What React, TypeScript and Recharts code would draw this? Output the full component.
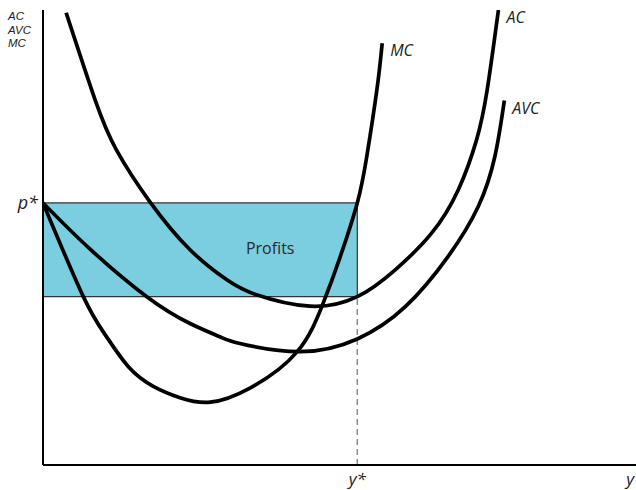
import React from 'react';
import {
  ComposedChart,
  Line,
  XAxis,
  YAxis,
  ReferenceArea,
  ReferenceLine,
} from 'recharts';

// Key values (x: output units 0-100, y: cost units 0-100)
const pStar = 57.6;
const yStar = 53;
const acAtYStar = 37;

// Marginal cost
const mcU = [0, 6.8, 10.5, 14.4, 18.6, 23.1, 28.2, 34.9, 42.8, 47.2, 50.1, 53, 54.6, 56.3, 57.2];
const mcV = [57.6, 37.0, 28.6, 21.6, 17.3, 14.8, 13.8, 16.9, 24.8, 35.4, 45.7, 57.6, 67.8, 82.4, 92.7];

// Average variable cost
const avcU = [0, 7.9, 17.5, 24.8, 29.8, 33.2, 43.3, 53, 61.1, 68.3, 73.4, 76.2, 77.8];
const avcV = [57.6, 47.5, 37.0, 31.1, 28.2, 26.7, 24.9, 27.7, 34.8, 45.8, 56.8, 67.8, 80.1];

// Average cost
const acU = [3.9, 8.8, 12.4, 18.0, 24.8, 31.0, 36.0, 45.0, 53, 59.4, 65.5, 70.0, 73.1, 74.9, 76.8];
const acV = [99.4, 80.2, 69.2, 57.9, 47.3, 40.7, 37.4, 34.9, 37.0, 42.9, 50.9, 60.4, 71.4, 82.4, 100];

const xTickValues = [yStar, 99];
const xTickLabels = ['y*', 'y'];
const yTickValues = [pStar];
const yTickLabels = ['p*'];
const yAxisTitle = ['AC', 'AVC', 'MC'];

const toPoints = (us: number[], vs: number[]) => us.map((u, i) => ({ u, v: vs[i] }));
const mcData = toPoints(mcU, mcV);
const avcData = toPoints(avcU, avcV);
const acData = toPoints(acU, acV);

const FONT = '"Open Sans", "Noto Sans", sans-serif';
const TEXT = '#222';

const endLabel = (name: string, lastIndex: number) => (props: any) => {
  const { x, y, index } = props;
  if (index !== lastIndex) return null;
  return (
    <text
      key={name}
      x={x + 8}
      y={y + 13}
      fontFamily={FONT}
      fontStyle="italic"
      fontSize={16}
      fill={TEXT}
    >
      {name}
    </text>
  );
};

const XTick = (props: any) => {
  const { x, y, index } = props;
  return (
    <text
      x={x}
      y={y}
      dy="0.71em"
      textAnchor="middle"
      fontFamily={FONT}
      fontStyle="italic"
      fontSize={17}
      fill={TEXT}
    >
      {xTickLabels[index]}
    </text>
  );
};

const YTick = (props: any) => {
  const { y, index } = props;
  return (
    <text
      x={38}
      y={y}
      dy="0.35em"
      textAnchor="end"
      fontFamily={FONT}
      fontStyle="italic"
      fontSize={18}
      fill={TEXT}
    >
      {yTickLabels[index]}
    </text>
  );
};

const YTitle = () => (
  <g>
    {yAxisTitle.map((t, i) => (
      <text
        key={t}
        x={8}
        y={20 + i * 13.5}
        fontFamily='"Liberation Sans", sans-serif'
        fontStyle="italic"
        fontSize={11.5}
        fill={TEXT}
      >
        {t}
      </text>
    ))}
  </g>
);

const ProfitsLabel = (props: any) => {
  const vb = props.viewBox || {};
  return (
    <text
      x={vb.x + vb.width * 0.723}
      y={vb.y + vb.height * 0.48}
      dy="0.35em"
      textAnchor="middle"
      fontFamily={FONT}
      fontSize={16}
      fill="#2a2a2a"
    >
      Profits
    </text>
  );
};

export default function App() {
  return (
    <div style={{ position: 'absolute', left: 0, top: 0, width: 636, height: 490, background: '#fff' }}>
      <ComposedChart width={636} height={490} margin={{ top: 10, right: 0, bottom: 0, left: 0 }}>
        <XAxis
          type="number"
          dataKey="u"
          domain={[0, 100]}
          ticks={xTickValues}
          tick={<XTick />}
          tickLine={false}
          axisLine={{ stroke: '#000', strokeWidth: 2 }}
          height={25}
          interval={0}
          allowDataOverflow
        />
        <YAxis
          type="number"
          dataKey="v"
          domain={[0, 100]}
          ticks={yTickValues}
          tick={<YTick />}
          tickLine={false}
          axisLine={{ stroke: '#000', strokeWidth: 2 }}
          width={43}
          interval={0}
          allowDataOverflow
          label={{ content: () => <YTitle /> }}
        />
        <ReferenceArea
          x1={0}
          x2={yStar}
          y1={acAtYStar}
          y2={pStar}
          fill="#7acee0"
          fillOpacity={1}
          stroke="#333"
          strokeWidth={1.2}
          label={<ProfitsLabel />}
        />
        <ReferenceLine
          segment={[
            { x: yStar, y: 0 },
            { x: yStar, y: acAtYStar },
          ]}
          stroke="#8a8a8a"
          strokeWidth={1.5}
          strokeDasharray="6 4"
        />
        <Line
          data={acData}
          dataKey="v"
          type="natural"
          stroke="#000"
          strokeWidth={3.7}
          dot={false}
          isAnimationActive={false}
          label={endLabel('AC', acData.length - 1)}
        />
        <Line
          data={avcData}
          dataKey="v"
          type="natural"
          stroke="#000"
          strokeWidth={3.7}
          dot={false}
          isAnimationActive={false}
          label={endLabel('AVC', avcData.length - 1)}
        />
        <Line
          data={mcData}
          dataKey="v"
          type="natural"
          stroke="#000"
          strokeWidth={3.7}
          dot={false}
          isAnimationActive={false}
          label={endLabel('MC', mcData.length - 1)}
        />
      </ComposedChart>
    </div>
  );
}
